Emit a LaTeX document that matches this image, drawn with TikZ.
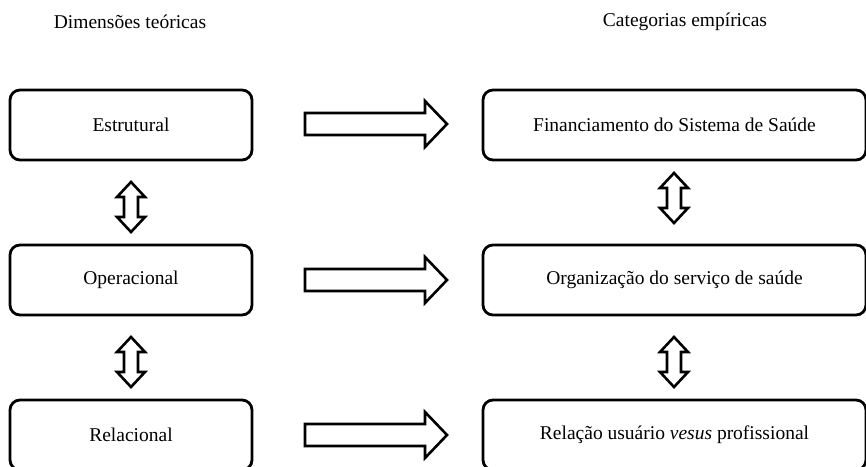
\documentclass[tikz,border=0pt]{standalone}
\usepackage{fontspec}
\setmainfont{Liberation Serif}
\begin{document}
\begin{tikzpicture}[x=1pt,y=-1pt,
  box/.style={draw, line width=2.8pt, rounded corners=10pt, font=\fontsize{19.5}{22}\selectfont, inner sep=0pt},
  lbox/.style={box, minimum width=242pt, minimum height=70pt},
  rbox/.style={box, minimum width=383pt, minimum height=70pt},
  title/.style={font=\fontsize{19.5}{22}\selectfont, inner sep=0pt},
  blk/.style={draw, line width=2.6pt, fill=white, line join=miter},
  harrow/.pic={\draw[blk] (0,-11) -- (120,-11) -- (120,-23) -- (142,0) -- (120,23) -- (120,11) -- (0,11) -- cycle;},
  vdarrow/.pic={\draw[blk] (0,-25) -- (14,-10) -- (7,-10) -- (7,10) -- (14,10) -- (0,25) -- (-14,10) -- (-7,10) -- (-7,-10) -- (-14,-10) -- cycle;}
]
\useasboundingbox (0,0) rectangle (866,466);
\clip (0,0) rectangle (866,466);

\node[title] (t1) at (130,22) {Dimensões teóricas};
\node[title] (t2) at (685,22) {Categorias empíricas};

\node[lbox] (e) at (131,125) {Estrutural};
\node[lbox] (o) at (131,280) {Operacional};
\node[lbox] (r) at (131,435) {Relacional};

\node[rbox] (f) at (674.5,125) {Financiamento do Sistema de Saúde};
\node[rbox] (g) at (674.5,280) {Organização do serviço de saúde};
\node[rbox] (u) at (674.5,435) {Relação usuário \textit{vesus} profissional};

\pic at (305,124) {harrow};
\pic at (305,280) {harrow};
\pic at (305,435) {harrow};

\pic at (131,207) {vdarrow};
\pic at (131,362) {vdarrow};
\pic at (674,198) {vdarrow};
\pic at (674,362) {vdarrow};
\end{tikzpicture}
\end{document}
